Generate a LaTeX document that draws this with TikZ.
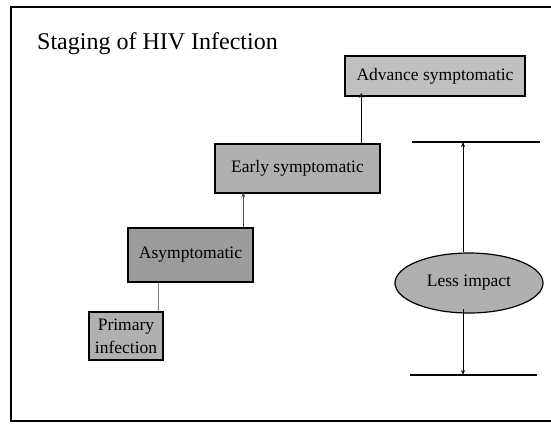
\documentclass[tikz,border=0pt]{standalone}
\usepackage{fontspec}
\setmainfont{Liberation Serif}
\usetikzlibrary{shapes.geometric,arrows.meta}
\begin{document}
\begin{tikzpicture}[x=1bp,y=-1bp,
  stagebox/.style={draw=black,line width=2bp,inner sep=0pt,align=center,
    font=\fontsize{17.5bp}{22bp}\selectfont},
  conn/.style={line width=0.9bp,-{Stealth[length=5bp,width=4bp]}},
  plainconn/.style={line width=0.9bp,draw=gray}]
\useasboundingbox (0,0) rectangle (551,424);
\fill[white] (0,0) rectangle (551,424);
% frame
\draw[line width=2bp] (551,7) -- (11,7) -- (11,421) -- (551,421);
% title
\node[anchor=base west,inner sep=0pt,font=\fontsize{24bp}{28bp}\selectfont] (title) at (37,49) {Staging of HIV Infection};
% stages
\node[stagebox,fill=gray!50,line width=1.5bp,minimum width=180bp,minimum height=40bp] (adv) at (435,76) {Advance symptomatic};
\node[stagebox,fill=gray!62,line width=2.5bp,minimum width=165bp,minimum height=49bp] (early) at (297.5,168.5) {Early symptomatic};
\node[stagebox,fill=gray!78,line width=2.5bp,minimum width=125bp,minimum height=54bp] (asym) at (190.5,255) {Asymptomatic};
\node[stagebox,fill=gray!62,line width=1.5bp,minimum width=74bp,minimum height=48bp,font=\fontsize{17.5bp}{23bp}\selectfont] (prim) at (126,336) {Primary\\infection};
\node[ellipse,draw=black,line width=1.2bp,fill=gray!62,inner sep=0pt,minimum width=148bp,minimum height=60bp,font=\fontsize{17.5bp}{22bp}\selectfont] (ell) at (469,283) {Less impact};
% horizontal bounds
\coordinate (t1) at (412,142);
\coordinate (t2) at (540,142);
\coordinate (b1) at (410,375);
\coordinate (b2) at (537,375);
\draw[line width=2bp] (t1) -- (t2);
\draw[line width=2bp] (b1) -- (b2);
% connectors
\draw[conn] ([xshift=-20bp]early.north east) -- ([xshift=-20bp,yshift=4bp]early.north east |- adv.south);
\draw[conn,draw=black!70] ([xshift=-11bp]asym.north east) -- ([xshift=-11bp,yshift=2bp]asym.north east |- early.south);
\draw[plainconn] ([xshift=-5bp]prim.north east) -- ([xshift=-5bp]prim.north east |- asym.south);
\draw[conn] ([xshift=-6bp]ell.north) -- ([xshift=-6bp]ell.north |- t1);
\draw[conn] ([xshift=-6bp,yshift=5bp]ell.south) -- ([xshift=-6bp]ell.south |- b1);
\end{tikzpicture}
\end{document}
